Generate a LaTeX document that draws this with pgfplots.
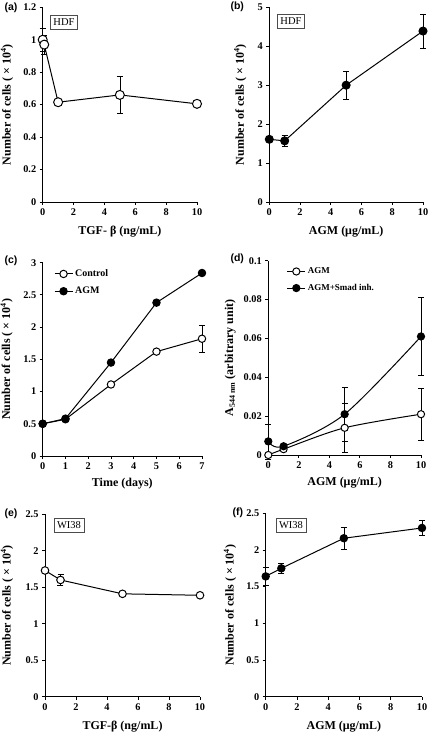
\documentclass[border=0pt]{standalone}
\usepackage{pgfplots}
\pgfplotsset{compat=1.18}
\usepackage{fontspec}
\setmainfont{Liberation Serif}
\newfontfamily\arialfont{Liberation Sans}
\tikzset{lbox/.style={draw=black!70, line width=0.6pt, fill=white, font=\fontsize{10.5}{12}\selectfont, inner xsep=3pt, inner ysep=3.5pt}}
\begin{document}
\begin{tikzpicture}
\useasboundingbox (0pt,0pt) rectangle (429pt,732pt);
\pgfplotsset{
  panel/.style={
    scale only axis,
    anchor=south west,
    axis lines*=left,
    axis line style={-, line width=0.9pt, black},
    tick align=outside,
    major tick length=3pt,
    tick style={line width=0.9pt, black},
    enlargelimits=false,
    clip=false,
    /pgf/number format/assume math mode=true,
    /pgf/number format/fixed,
    /pgf/number format/precision=2,
    scaled ticks=false,
    tick label style={font=\fontsize{10.3}{12}\selectfont\bfseries},
    label style={font=\fontsize{12}{14}\selectfont\bfseries},
    ylabel style={anchor=center},
    xlabel style={at={(axis description cs:0.5,0)}, anchor=center, yshift=-30pt},
    error bars/error bar style={line width=0.55pt, black},
    error bars/error mark options={rotate=90, mark size=3pt, line width=0.55pt, black},
    legend cell align=left,
    legend image code/.code={\draw[##1, mark repeat=2, mark phase=2] plot coordinates {(0pt,0pt) (9pt,0pt) (18pt,0pt)};},
  },
  ser/.style={black, line width=1pt, mark=*},
}
\newcommand{\ncells}{Number of cells ( × 10\textsuperscript{4})}
% (a)
\begin{axis}[panel, at={(42.7pt,530pt)}, width=154.3pt, height=194.7pt,
  xmin=0, xmax=10, ymin=0, ymax=1.2, xtick={0,2,4,6,8,10}, ytick={0,0.2,0.4,0.6,0.8,1,1.2},
  xlabel={TGF- β (ng/mL)}, ylabel={\ncells},
  ylabel style={at={(axis description cs:-0.231,0.5)}}]
\addplot[ser, mark size=4.5pt, mark options={fill=white, solid}, error bars/.cd, y dir=both, y explicit] coordinates {
  (0,1.0) +- (0,0.07)
  (0.1,0.97) +- (0,0.06)
  (1,0.615) +- (0,0.01)
  (5,0.66) +- (0,0.115)
  (10,0.605) +- (0,0.01)
};
\node[lbox] at (axis description cs:0.138,0.922) {HDF};
\end{axis}
% (b)
\begin{axis}[panel, at={(269.3pt,530pt)}, width=153.7pt, height=194.7pt,
  xmin=0, xmax=10, ymin=0, ymax=5, xtick={0,2,4,6,8,10}, ytick={0,1,2,3,4,5},
  xlabel={AGM (μg/mL)}, ylabel={\ncells},
  ylabel style={at={(axis description cs:-0.189,0.5)}}]
\addplot[ser, mark size=4pt, mark options={fill=black, solid}, error bars/.cd, y dir=both, y explicit] coordinates {
  (0,1.61) +- (0,0)
  (1,1.57) +- (0,0.15)
  (5,3.0) +- (0,0.35)
  (10,4.39) +- (0,0.43)
};
\node[lbox] at (axis description cs:0.141,0.93) {HDF};
\end{axis}
% (c)
\begin{axis}[panel, at={(42.7pt,276pt)}, width=159.3pt, height=193.3pt,
  xmin=0, xmax=7, ymin=0, ymax=3, xtick={0,1,2,3,4,5,6,7}, ytick={0,0.5,1,1.5,2,2.5,3},
  xlabel={Time (days)}, ylabel={\ncells},
  xlabel style={yshift=2pt},
  ylabel style={at={(axis description cs:-0.226,0.5)}},
  legend style={at={(axis description cs:0.07,0.975)}, anchor=north west, draw=none, fill=none,
    font=\fontsize{10}{12}\selectfont\bfseries, row sep=5pt, inner sep=0pt}]
\addplot[ser, mark size=3.7pt, mark options={fill=white, solid}, error bars/.cd, y dir=both, y explicit] coordinates {
  (0,0.5) +- (0,0)
  (1,0.57) +- (0,0.02)
  (3,1.11) +- (0,0.02)
  (5,1.62) +- (0,0.03)
  (7,1.82) +- (0,0.21)
};
\addlegendentry{Control}
\addplot[ser, mark size=3.7pt, mark options={fill=black, solid}] coordinates {
  (0,0.5) (1,0.58) (3,1.45) (5,2.38) (7,2.84)
};
\addlegendentry{AGM}
\end{axis}
% (d)
\begin{axis}[panel, at={(268.3pt,277pt)}, width=152.7pt, height=194.3pt,
  xmin=0, xmax=10, ymin=0, ymax=0.1, xtick={0,2,4,6,8,10}, ytick={0,0.02,0.04,0.06,0.08,0.1},
  yticklabels={0,0.02,0.04,0.06,0.08,0.1},
  xlabel={AGM (μg/mL)}, ylabel={A\textsubscript{544 nm} (arbitrary unit)},
  xlabel style={yshift=2pt},
  ylabel style={at={(axis description cs:-0.249,0.5)}},
  legend style={at={(axis description cs:0.12,0.975)}, anchor=north west, draw=none, fill=none,
    font=\fontsize{9}{11}\selectfont\bfseries, row sep=5pt, inner sep=0pt}]
\addplot[ser, smooth, mark size=3.6pt, mark options={fill=white, solid}, error bars/.cd, y dir=both, y explicit] coordinates {
  (0,0) +- (0,0)
  (1,0.003) +- (0,0.001)
  (5,0.014) +- (0,0.0125)
  (10,0.021) +- (0,0.0135)
};
\addlegendentry{AGM}
\addplot[ser, smooth, mark size=3.6pt, mark options={fill=black, solid}, error bars/.cd, y dir=both, y explicit] coordinates {
  (0,0.007) +- (0,0.009)
  (1,0.0045) +- (0,0.001)
  (5,0.021) +- (0,0.014)
  (10,0.061) +- (0,0.02)
};
\addlegendentry{AGM+Smad inh.}
\end{axis}
% (e)
\begin{axis}[panel, at={(45pt,35.3pt)}, width=155pt, height=182.4pt,
  xmin=0, xmax=10, ymin=0, ymax=2.5, xtick={0,2,4,6,8,10}, ytick={0,0.5,1,1.5,2,2.5},
  xlabel={TGF-β (ng/mL)}, ylabel={\ncells},
  ylabel style={at={(axis description cs:-0.245,0.5)}}]
\addplot[ser, mark size=3.8pt, mark options={fill=white, solid}, error bars/.cd, y dir=both, y explicit] coordinates {
  (0,1.73) +- (0,0.02)
  (1,1.6) +- (0,0.075)
  (5,1.41) +- (0,0.01)
  (10,1.39) +- (0,0.01)
};
\node[lbox] at (axis description cs:0.155,0.941) {WI38};
\end{axis}
% (f)
\begin{axis}[panel, at={(265.7pt,35.3pt)}, width=156.3pt, height=183.4pt,
  xmin=0, xmax=10, ymin=0, ymax=2.5, xtick={0,2,4,6,8,10}, ytick={0,0.5,1,1.5,2,2.5},
  xlabel={AGM (μg/mL)}, ylabel={\ncells},
  ylabel style={at={(axis description cs:-0.228,0.5)}}]
\addplot[ser, mark size=3.7pt, mark options={fill=black, solid}, error bars/.cd, y dir=both, y explicit] coordinates {
  (0,1.64) +- (0,0.12)
  (1,1.75) +- (0,0.065)
  (5,2.16) +- (0,0.155)
  (10,2.30) +- (0,0.1)
};
\node[lbox] at (axis description cs:0.162,0.936) {WI38};
\end{axis}
% panel letters
\node[anchor=west, font=\arialfont\bfseries\fontsize{10.5}{12}\selectfont] at (1pt,724.5pt) {(a)};
\node[anchor=west, font=\arialfont\bfseries\fontsize{10.5}{12}\selectfont] at (227pt,725pt) {(b)};
\node[anchor=west, font=\arialfont\bfseries\fontsize{10.5}{12}\selectfont] at (1pt,471pt) {(c)};
\node[anchor=west, font=\arialfont\bfseries\fontsize{10.5}{12}\selectfont] at (227pt,473pt) {(d)};
\node[anchor=west, font=\arialfont\bfseries\fontsize{10.5}{12}\selectfont] at (1pt,218pt) {(e)};
\node[anchor=west, font=\arialfont\bfseries\fontsize{10.5}{12}\selectfont] at (229pt,219pt) {(f)};
\end{tikzpicture}
\end{document}
